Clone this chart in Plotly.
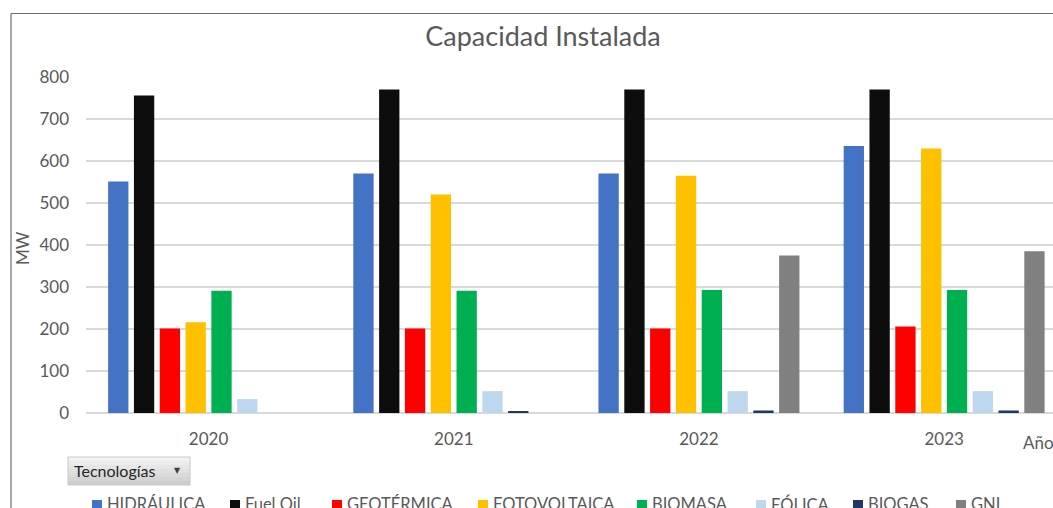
import plotly.graph_objects as go

# Installed capacity (MW) by technology and year
years = ["2020", "2021", "2022", "2023"]
technologies = ["HIDRÁULICA", "Fuel Oil", "GEOTÉRMICA", "FOTOVOLTAICA",
                "BIOMASA", "EÓLICA", "BIOGAS", "GNL"]
hidraulica = [551, 570, 570, 636]
fuel_oil = [756, 770, 770, 770]
geotermica = [201, 201, 201, 206]
fotovoltaica = [216, 520, 565, 630]
biomasa = [291, 291, 293, 293]
eolica = [33, 52, 52, 52]
biogas = [None, 4, 6, 6]
gnl = [None, None, 375, 385]

series = [hidraulica, fuel_oil, geotermica, fotovoltaica,
          biomasa, eolica, biogas, gnl]
colors = ["#4472C4", "#0D0D0D", "#FF0000", "#FFC000",
          "#00B050", "#BDD7EE", "#203864", "#808080"]

W, H = 1053, 508
ML, MR, MT, MB = 86, 0, 77, 95
PW, PH = W - ML - MR, H - MT - MB
FONT = "Lato"
GREY = "#595959"


def px(x):
    return (x - ML) / PW


def py(y):
    return (H - MB - y) / PH


fig = go.Figure()
for name, vals, col in zip(technologies, series, colors):
    fig.add_trace(go.Bar(name=name, x=years, y=vals,
                         marker=dict(color=col, line=dict(width=0)),
                         showlegend=False))

fig.update_layout(
    width=W, height=H,
    margin=dict(l=ML, r=MR, t=MT, b=MB, autoexpand=False),
    paper_bgcolor="white", plot_bgcolor="white",
    barmode="group", bargap=0.158, bargroupgap=0.213,
    font=dict(family=FONT, color=GREY),
    title=dict(text="Capacidad Instalada", xref="container", x=543 / W,
               xanchor="center", yref="container", y=1 - 37 / H,
               yanchor="middle",
               font=dict(family=FONT, size=27, color=GREY)),
    xaxis=dict(type="category", range=[-0.5, 3.444], showgrid=False,
               showline=False, ticks="", tickfont=dict(size=17, color=GREY),
               ticklabelstandoff=14),
    yaxis=dict(range=[0, 800], dtick=100, showgrid=True, gridcolor="#D9D9D9",
               gridwidth=1.5, zeroline=True, zerolinecolor="#D9D9D9",
               zerolinewidth=1.5, showline=False, ticks="",
               tickfont=dict(size=17, color=GREY), ticklabelstandoff=16),
)

shapes = []
annotations = []

# chart frame (top and left edges)
shapes.append(dict(type="line", xref="paper", yref="paper",
                   x0=px(11), x1=px(W), y0=py(13.5), y1=py(13.5),
                   line=dict(color="#6E6E6E", width=1.2)))
shapes.append(dict(type="line", xref="paper", yref="paper",
                   x0=px(11), x1=px(11), y0=py(13.5), y1=py(H + 5),
                   line=dict(color="#6E6E6E", width=1.2)))

# axis titles
annotations.append(dict(text="MW", xref="paper", yref="paper",
                        x=px(22), y=py(248), showarrow=False, textangle=-90,
                        xanchor="center", yanchor="middle",
                        font=dict(family=FONT, size=17, color=GREY)))
annotations.append(dict(text="Año", xref="paper", yref="paper",
                        x=px(1021), y=py(442), showarrow=False,
                        xanchor="left", yanchor="middle",
                        font=dict(family=FONT, size=17, color=GREY)))

# field button
bx0, bx1, by0, by1 = 68, 190, 457, 485
band_cols = ["#F2F2F2", "#ECECEC", "#E6E6E6", "#E0E0E0", "#DADADA",
             "#D4D4D4", "#CECECE"]
step = (by1 - by0) / len(band_cols)
for i, c in enumerate(band_cols):
    shapes.append(dict(type="rect", xref="paper", yref="paper",
                       x0=px(bx0), x1=px(bx1),
                       y0=py(by0 + i * step), y1=py(by0 + (i + 1) * step),
                       fillcolor=c, line=dict(width=0), layer="above"))
shapes.append(dict(type="rect", xref="paper", yref="paper",
                   x0=px(bx0), x1=px(bx1), y0=py(by0), y1=py(by1),
                   fillcolor="rgba(0,0,0,0)",
                   line=dict(color="#C8C8C8", width=1), layer="above"))
annotations.append(dict(text="Tecnologías", xref="paper", yref="paper",
                        x=px(72), y=py(470), showarrow=False,
                        xanchor="left", yanchor="middle",
                        font=dict(family=FONT, size=16, color="#262626")))
annotations.append(dict(text="▼", xref="paper", yref="paper",
                        x=px(177), y=py(470), showarrow=False,
                        xanchor="center", yanchor="middle",
                        font=dict(family="DejaVu Sans", size=8, color="#404040")))

# legend entries
legend_x = [92, 230, 332, 478, 637, 756, 853, 956]
for name, col, lx in zip(technologies, colors, legend_x):
    shapes.append(dict(type="rect", xref="paper", yref="paper",
                       x0=px(lx), x1=px(lx + 10), y0=py(500), y1=py(510),
                       fillcolor=col, line=dict(width=0), layer="above"))
    annotations.append(dict(text=name, xref="paper", yref="paper",
                            x=px(lx + 13), y=py(504), showarrow=False,
                            xanchor="left", yanchor="middle",
                            font=dict(family=FONT, size=16.5, color=GREY)))

fig.update_layout(shapes=shapes, annotations=annotations)
fig.write_html("out.html")
